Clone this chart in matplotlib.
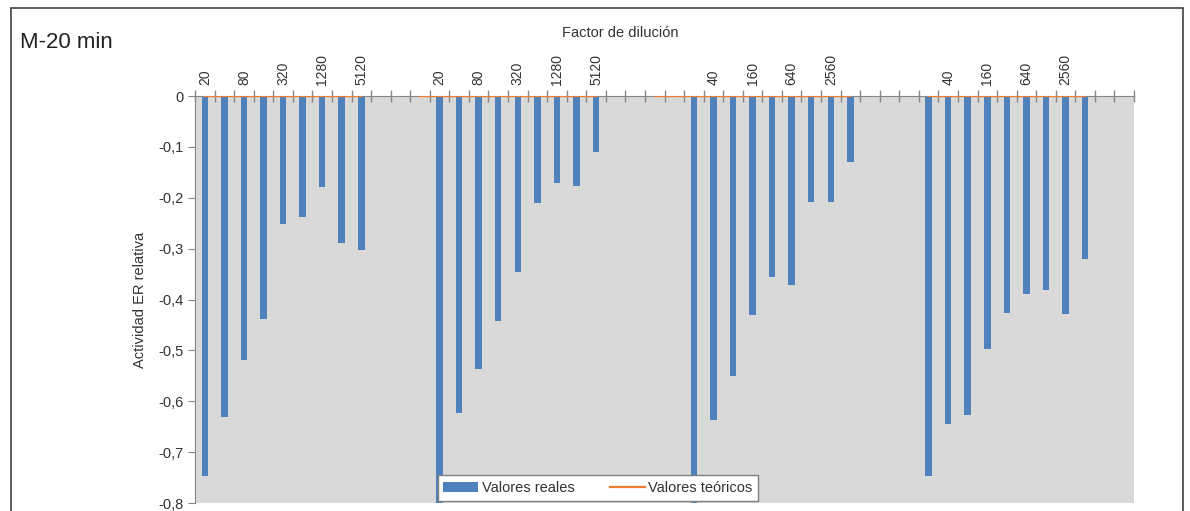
import matplotlib
matplotlib.use('Agg')

import matplotlib.pyplot as plt
import numpy as np
from matplotlib.patches import Rectangle
from matplotlib.ticker import FuncFormatter, MultipleLocator

plt.rcParams['font.family'] = ['Liberation Sans', 'DejaVu Sans']

# categorias del eje (48, con huecos entre grupos)
dil = ['20', '40', '80', '160', '320', '640', '1280', '2560', '5120']
categorias = dil + [''] * 3 + dil + [''] * 4 + dil + [''] * 3 + dil + [''] * 2

nan = np.nan
reales = [-0.747, -0.631, -0.519, -0.438, -0.252, -0.238, -0.179, -0.289, -0.303,
          nan, nan, nan,
          -0.82, -0.623, -0.537, -0.442, -0.346, -0.210, -0.171, -0.177, -0.110,
          nan, nan, nan, nan,
          -0.82, -0.637, -0.550, -0.430, -0.356, -0.371, -0.208, -0.208, -0.130,
          nan, nan, nan,
          -0.747, -0.645, -0.627, -0.497, -0.427, -0.389, -0.381, -0.428, -0.320,
          nan, nan]

teoricos = [0] * 9 + [nan, nan, 0] + [0] * 9 + [nan, nan, 0, 0] + [0] * 9 + [nan] * 3 + [0] * 9 + [nan] * 2

texto = '#333333'
gris = '#868686'

fig = plt.figure(figsize=(11.9, 5.11), dpi=100)
ax = fig.add_axes([195 / 1190, 1 - 503 / 511, 939 / 1190, 407 / 511])
ax.set_facecolor('#D9D9D9')

x = np.arange(len(categorias))
barras = ax.bar(x, reales, width=0.33, color='#4F81BD', label='Valores reales', zorder=2)
linea, = ax.plot(x, teoricos, color='#ED7D31', linewidth=1.6, label='Valores teóricos', zorder=3)

ax.set_xlim(-0.5, len(categorias) - 0.5)
ax.set_ylim(-0.8, 0)

# eje de categorias arriba (en el cero)
ax.xaxis.tick_top()
ax.xaxis.set_label_position('top')
ax.set_xticks(x[::2])
ax.set_xticklabels(categorias[::2], rotation=90, fontsize=10, color=texto)
ax.set_xticks(np.arange(-0.5, len(categorias), 1), minor=True)
ax.tick_params(axis='x', which='major', length=0, pad=8)
ax.tick_params(axis='x', which='minor', length=8, direction='inout', color=gris, width=1)
ax.set_xlabel('Factor de dilución', fontsize=10.5, color=texto)
ax.xaxis.set_label_coords((620 - 195) / 939, (503 - 37) / 407, transform=ax.transAxes)

ax.yaxis.set_major_locator(MultipleLocator(0.1))
ax.yaxis.set_major_formatter(FuncFormatter(lambda v, p: ('%.1f' % v).replace('.', ',') if round(v, 2) != 0 else '0'))
ax.tick_params(axis='y', which='major', length=5, direction='out', color=gris, labelsize=10.5, labelcolor=texto)
ax.set_ylabel('Actividad ER relativa', fontsize=10.5, color=texto, labelpad=8)

for s in ['right', 'bottom']:
    ax.spines[s].set_visible(False)
ax.spines['top'].set_color(gris)
ax.spines['left'].set_color(gris)

fig.text(20 / 1190, 1 - 42 / 511, 'M-20 min', fontsize=16, color='#222222', va='center', ha='left')

# borde del grafico
fig.patches.append(Rectangle((11 / 1190, -0.1), 1172 / 1190, 1.1 - 8 / 511, transform=fig.transFigure,
                             fill=False, edgecolor='#404040', linewidth=1.2))

leg = fig.legend([barras, linea], ['Valores reales', 'Valores teóricos'], loc='lower center',
                 bbox_to_anchor=(598 / 1190, 1 - 501 / 511), borderaxespad=0, ncol=2, fontsize=10.5,
                 frameon=True, fancybox=False, framealpha=1, edgecolor='#7F7F7F', handlelength=2.4,
                 handletextpad=0.25, columnspacing=2.4, borderpad=0.4)
for t in leg.get_texts():
    t.set_color(texto)
leg.get_frame().set_linewidth(1)

fig.savefig('out.png', dpi=100)
